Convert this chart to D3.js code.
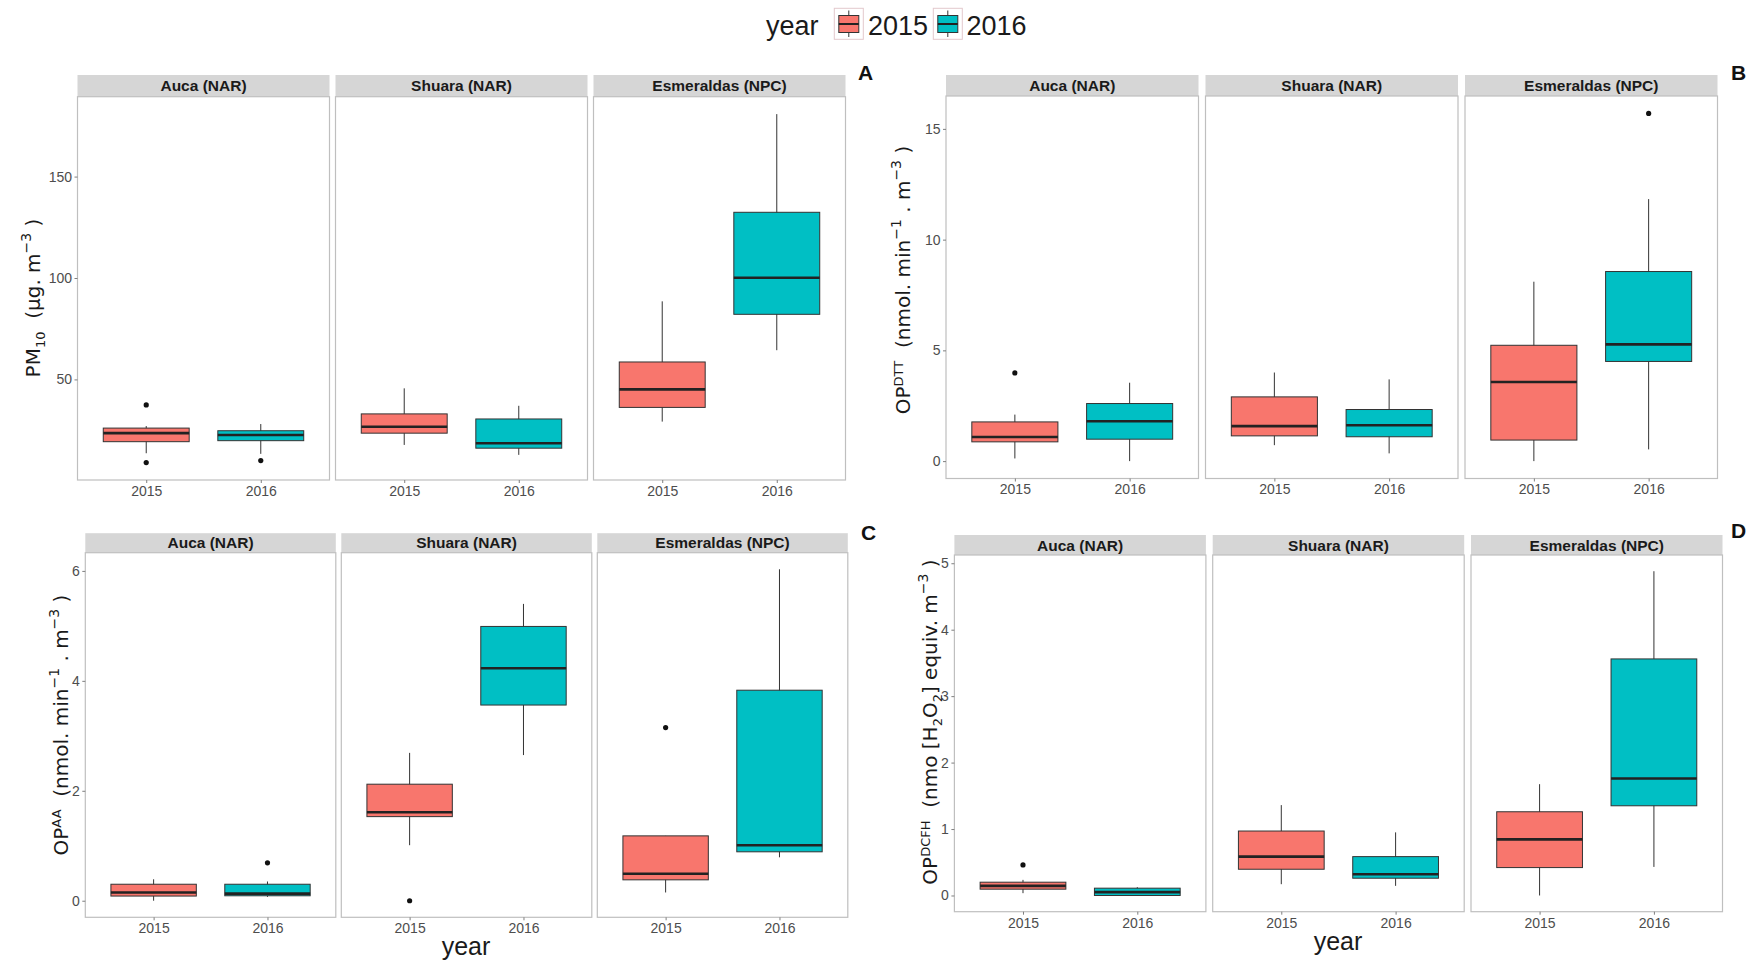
<!DOCTYPE html>
<html><head><meta charset="utf-8">
<script src="https://cdn.jsdelivr.net/npm/d3@7"></script>
<style>body{margin:0;background:#fff} svg{display:block}</style>
</head><body><svg id="chart" width="1753" height="960"></svg>
<script>
// ---------------- DATA ----------------
const sites = ["Auca (NAR)", "Shuara (NAR)", "Esmeraldas (NPC)"];
const years = ["2015", "2016"];
const yearColors = ["#F8766D", "#00BFC4"];
// box statistics per site x year (Auca 2015, Auca 2016, Shuara 2015, Shuara 2016, Esmeraldas 2015, Esmeraldas 2016)
// [lower whisker, Q1, median, Q3, upper whisker]
const pm10Stats = [
  [13.6, 19.3, 23.5, 26.0, 27.0],
  [13.3, 19.8, 22.6, 24.7, 28.0],
  [17.7, 23.5, 26.7, 33.0, 45.6],
  [12.8, 16.1, 18.5, 30.5, 37.0],
  [29.2, 36.2, 45.1, 58.6, 88.5],
  [64.4, 82.1, 100.1, 132.4, 180.8]
];
const pm10Outliers = [[37.4, 9.0], [10.0], [], [], [], []];
const pm10Ticks = [50, 100, 150];

const dttStats = [
  [0.12, 0.87, 1.09, 1.77, 2.10],
  [0.00, 0.99, 1.80, 2.60, 3.54],
  [0.72, 1.14, 1.58, 2.90, 4.00],
  [0.35, 1.10, 1.62, 2.33, 3.69],
  [0.00, 0.95, 3.57, 5.23, 8.10],
  [0.53, 4.50, 5.27, 8.56, 11.83]
];
const dttOutliers = [[3.98], [], [], [], [], [15.7]];
const dttTicks = [0, 5, 10, 15];

const aaStats = [
  [0.00, 0.085, 0.15, 0.30, 0.39],
  [0.07, 0.09, 0.13, 0.30, 0.35],
  [1.01, 1.53, 1.61, 2.12, 2.69],
  [2.65, 3.56, 4.23, 4.99, 5.40],
  [0.15, 0.38, 0.49, 1.18, 1.18],
  [0.79, 0.89, 1.01, 3.83, 6.03]
];
const aaOutliers = [[], [0.69], [0.0], [], [3.15], []];
const aaTicks = [0, 2, 4, 6];

const dcfhStats = [
  [0.035, 0.095, 0.145, 0.20, 0.235],
  [0.00, 0.00, 0.05, 0.11, 0.125],
  [0.17, 0.395, 0.585, 0.97, 1.36],
  [0.145, 0.26, 0.32, 0.585, 0.95],
  [0.00, 0.42, 0.845, 1.26, 1.675],
  [0.43, 1.35, 1.76, 3.56, 4.88]
];
const dcfhOutliers = [[0.46], [], [], [], [], []];
const dcfhTicks = [0, 1, 2, 3, 4, 5];

// ---------------- LAYOUT ----------------
const svg = d3.select("#chart");
const tickFont = "'Liberation Sans', Arial, sans-serif";
const titleFont = "'DejaVu Sans', sans-serif";

const panels = [
  {letter: "A", stats: pm10Stats, outliers: pm10Outliers, ticks: pm10Ticks,
   x0: 77.5, w: 252, gap: 6, top: 96.7, bottom: 480, stripH: 21.7,
   letterX: 858, letterY: 80, titleX: 40, titleY: 298,
   title: [["PM", 0], ["10", 1], ["  (µg. m", 0], ["−3", 2], [" )", 0]]},
  {letter: "B", stats: dttStats, outliers: dttOutliers, ticks: dttTicks,
   x0: 946, w: 252.5, gap: 7, top: 96, bottom: 478.5, stripH: 21,
   letterX: 1731, letterY: 80, titleX: 910, titleY: 280,
   title: [["OP", 0], ["DTT", 3], ["  (nmol. min", 0], ["−1", 2], [" . m", 0], ["−3", 2], [" )", 0]]},
  {letter: "C", stats: aaStats, outliers: aaOutliers, ticks: aaTicks,
   x0: 85.3, w: 250.5, gap: 5.5, top: 552.7, bottom: 917.3, stripH: 19.5,
   letterX: 861, letterY: 540, titleX: 68, titleY: 725,
   title: [["OP", 0], ["AA", 3], ["  (nmol. min", 0], ["−1", 2], [" . m", 0], ["−3", 2], [" )", 0]]},
  {letter: "D", stats: dcfhStats, outliers: dcfhOutliers, ticks: dcfhTicks,
   x0: 954.4, w: 251.5, gap: 6.8, top: 555, bottom: 911.7, stripH: 20,
   letterX: 1731, letterY: 538, titleX: 937, titleY: 722,
   title: [["OP", 0], ["DCFH", 3], ["  (nmo [H", 0], ["2", 1], ["O", 0], ["2", 1], ["] equiv. m", 0], ["−3", 2], [" )", 0]]}
];

function drawPanel(p) {
  const g = svg.append("g");
  const all = p.stats.flat().concat(p.outliers.flat());
  const [mn, mx] = d3.extent(all);
  const pad = (mx - mn) * 0.05;
  const y = d3.scaleLinear().domain([mn - pad, mx + pad]).range([p.bottom, p.top]);

  sites.forEach((site, i) => {
    const fx = p.x0 + i * (p.w + p.gap);
    const x = d3.scalePoint().domain(years).range([fx, fx + p.w]).padding(0.6);
    const bw = x.step() * 0.75;
    // strip
    g.append("rect").attr("x", fx).attr("y", p.top - p.stripH).attr("width", p.w).attr("height", p.stripH)
      .attr("fill", "#d6d6d6");
    g.append("text").attr("x", fx + p.w / 2).attr("y", p.top - p.stripH / 2 + 5.5)
      .attr("text-anchor", "middle").attr("font-family", tickFont).attr("font-weight", "bold")
      .attr("font-size", 15.5).attr("fill", "#1a1a1a").text(site);
    // panel background/border
    g.append("rect").attr("x", fx).attr("y", p.top).attr("width", p.w).attr("height", p.bottom - p.top)
      .attr("fill", "#fff").attr("stroke", "#bfbfbf").attr("stroke-width", 1.2);
    // x axis
    const xa = g.append("g").attr("transform", `translate(0,${p.bottom})`)
      .call(d3.axisBottom(x).tickSize(3).tickPadding(3));
    xa.select(".domain").remove();
    xa.selectAll("line").attr("stroke", "#7f7f7f");
    xa.selectAll("text").attr("font-family", tickFont).attr("font-size", 14).attr("fill", "#4d4d4d");
    // boxes
    years.forEach((yr, j) => {
      const s = p.stats[i * 2 + j];
      const cx = x(yr);
      g.append("line").attr("x1", cx).attr("x2", cx).attr("y1", y(s[0])).attr("y2", y(s[4]))
        .attr("stroke", "#333").attr("stroke-width", 1);
      g.append("rect").attr("x", cx - bw / 2).attr("width", bw)
        .attr("y", y(s[3])).attr("height", Math.max(0.5, y(s[1]) - y(s[3])))
        .attr("fill", yearColors[j]).attr("stroke", "#333").attr("stroke-width", 1);
      g.append("line").attr("x1", cx - bw / 2).attr("x2", cx + bw / 2).attr("y1", y(s[2])).attr("y2", y(s[2]))
        .attr("stroke", "#222").attr("stroke-width", 2.6);
      p.outliers[i * 2 + j].forEach(v => {
        g.append("circle").attr("cx", cx).attr("cy", y(v)).attr("r", 2.6).attr("fill", "#111");
      });
    });
  });
  // y axis
  const ya = g.append("g").attr("transform", `translate(${p.x0},0)`)
    .call(d3.axisLeft(y).tickValues(p.ticks).tickFormat(d3.format("~g")).tickSize(3).tickPadding(2.5));
  ya.select(".domain").remove();
  ya.selectAll("line").attr("stroke", "#7f7f7f");
  ya.selectAll("text").attr("font-family", tickFont).attr("font-size", 14).attr("fill", "#4d4d4d");

  // panel letter
  svg.append("text").attr("x", p.letterX).attr("y", p.letterY).attr("font-family", tickFont)
    .attr("font-weight", "bold").attr("font-size", 21).attr("fill", "#111").text(p.letter);

  // y title (rotated) with sub/superscripts
  const t = svg.append("text").attr("transform", `translate(${p.titleX},${p.titleY}) rotate(-90)`)
    .attr("text-anchor", "middle").attr("font-family", titleFont).attr("font-size", 20).attr("fill", "#1a1a1a");
  let shift = 0;
  p.title.forEach(([str, kind]) => {
    let target = 0, size = 20;
    if (kind === 1) { target = 5; size = 13; }
    if (kind === 2) { target = -9; size = 14; }
    if (kind === 3) { target = -7; size = 13; }
    t.append("tspan").attr("dy", target - shift).attr("font-size", size).attr("xml:space", "preserve")
      .style("white-space", "pre").text(str);
    shift = target;
  });
}
panels.forEach(drawPanel);

// x titles
[[466, 955], [1338, 950]].forEach(([xx, yy]) => {
  svg.append("text").attr("x", xx).attr("y", yy).attr("text-anchor", "middle")
    .attr("font-family", tickFont).attr("font-size", 25).attr("fill", "#1a1a1a").text("year");
});

// legend
const lg = svg.append("g");
lg.append("text").attr("x", 766).attr("y", 35).attr("font-family", tickFont).attr("font-size", 27)
  .attr("fill", "#1a1a1a").text("year");
const keyX = [834.3, 933.3];
const labX = [868, 966.5];
years.forEach((yr, j) => {
  const kx = keyX[j];
  lg.append("rect").attr("x", kx).attr("y", 8.3).attr("width", 29).attr("height", 31)
    .attr("fill", "#fff").attr("stroke", "#e3c9cc").attr("stroke-width", 1);
  const cx = kx + 14.5;
  lg.append("line").attr("x1", cx).attr("x2", cx).attr("y1", 10.5).attr("y2", 37)
    .attr("stroke", "#333").attr("stroke-width", 1);
  lg.append("rect").attr("x", kx + 4.5).attr("y", 15.5).attr("width", 20).attr("height", 17)
    .attr("fill", yearColors[j]).attr("stroke", "#333").attr("stroke-width", 1);
  lg.append("line").attr("x1", kx + 4.5).attr("x2", kx + 24.5).attr("y1", 24).attr("y2", 24)
    .attr("stroke", "#222").attr("stroke-width", 2);
  lg.append("text").attr("x", labX[j]).attr("y", 35).attr("font-family", tickFont).attr("font-size", 27)
    .attr("fill", "#1a1a1a").text(yr);
});
</script></body></html>
